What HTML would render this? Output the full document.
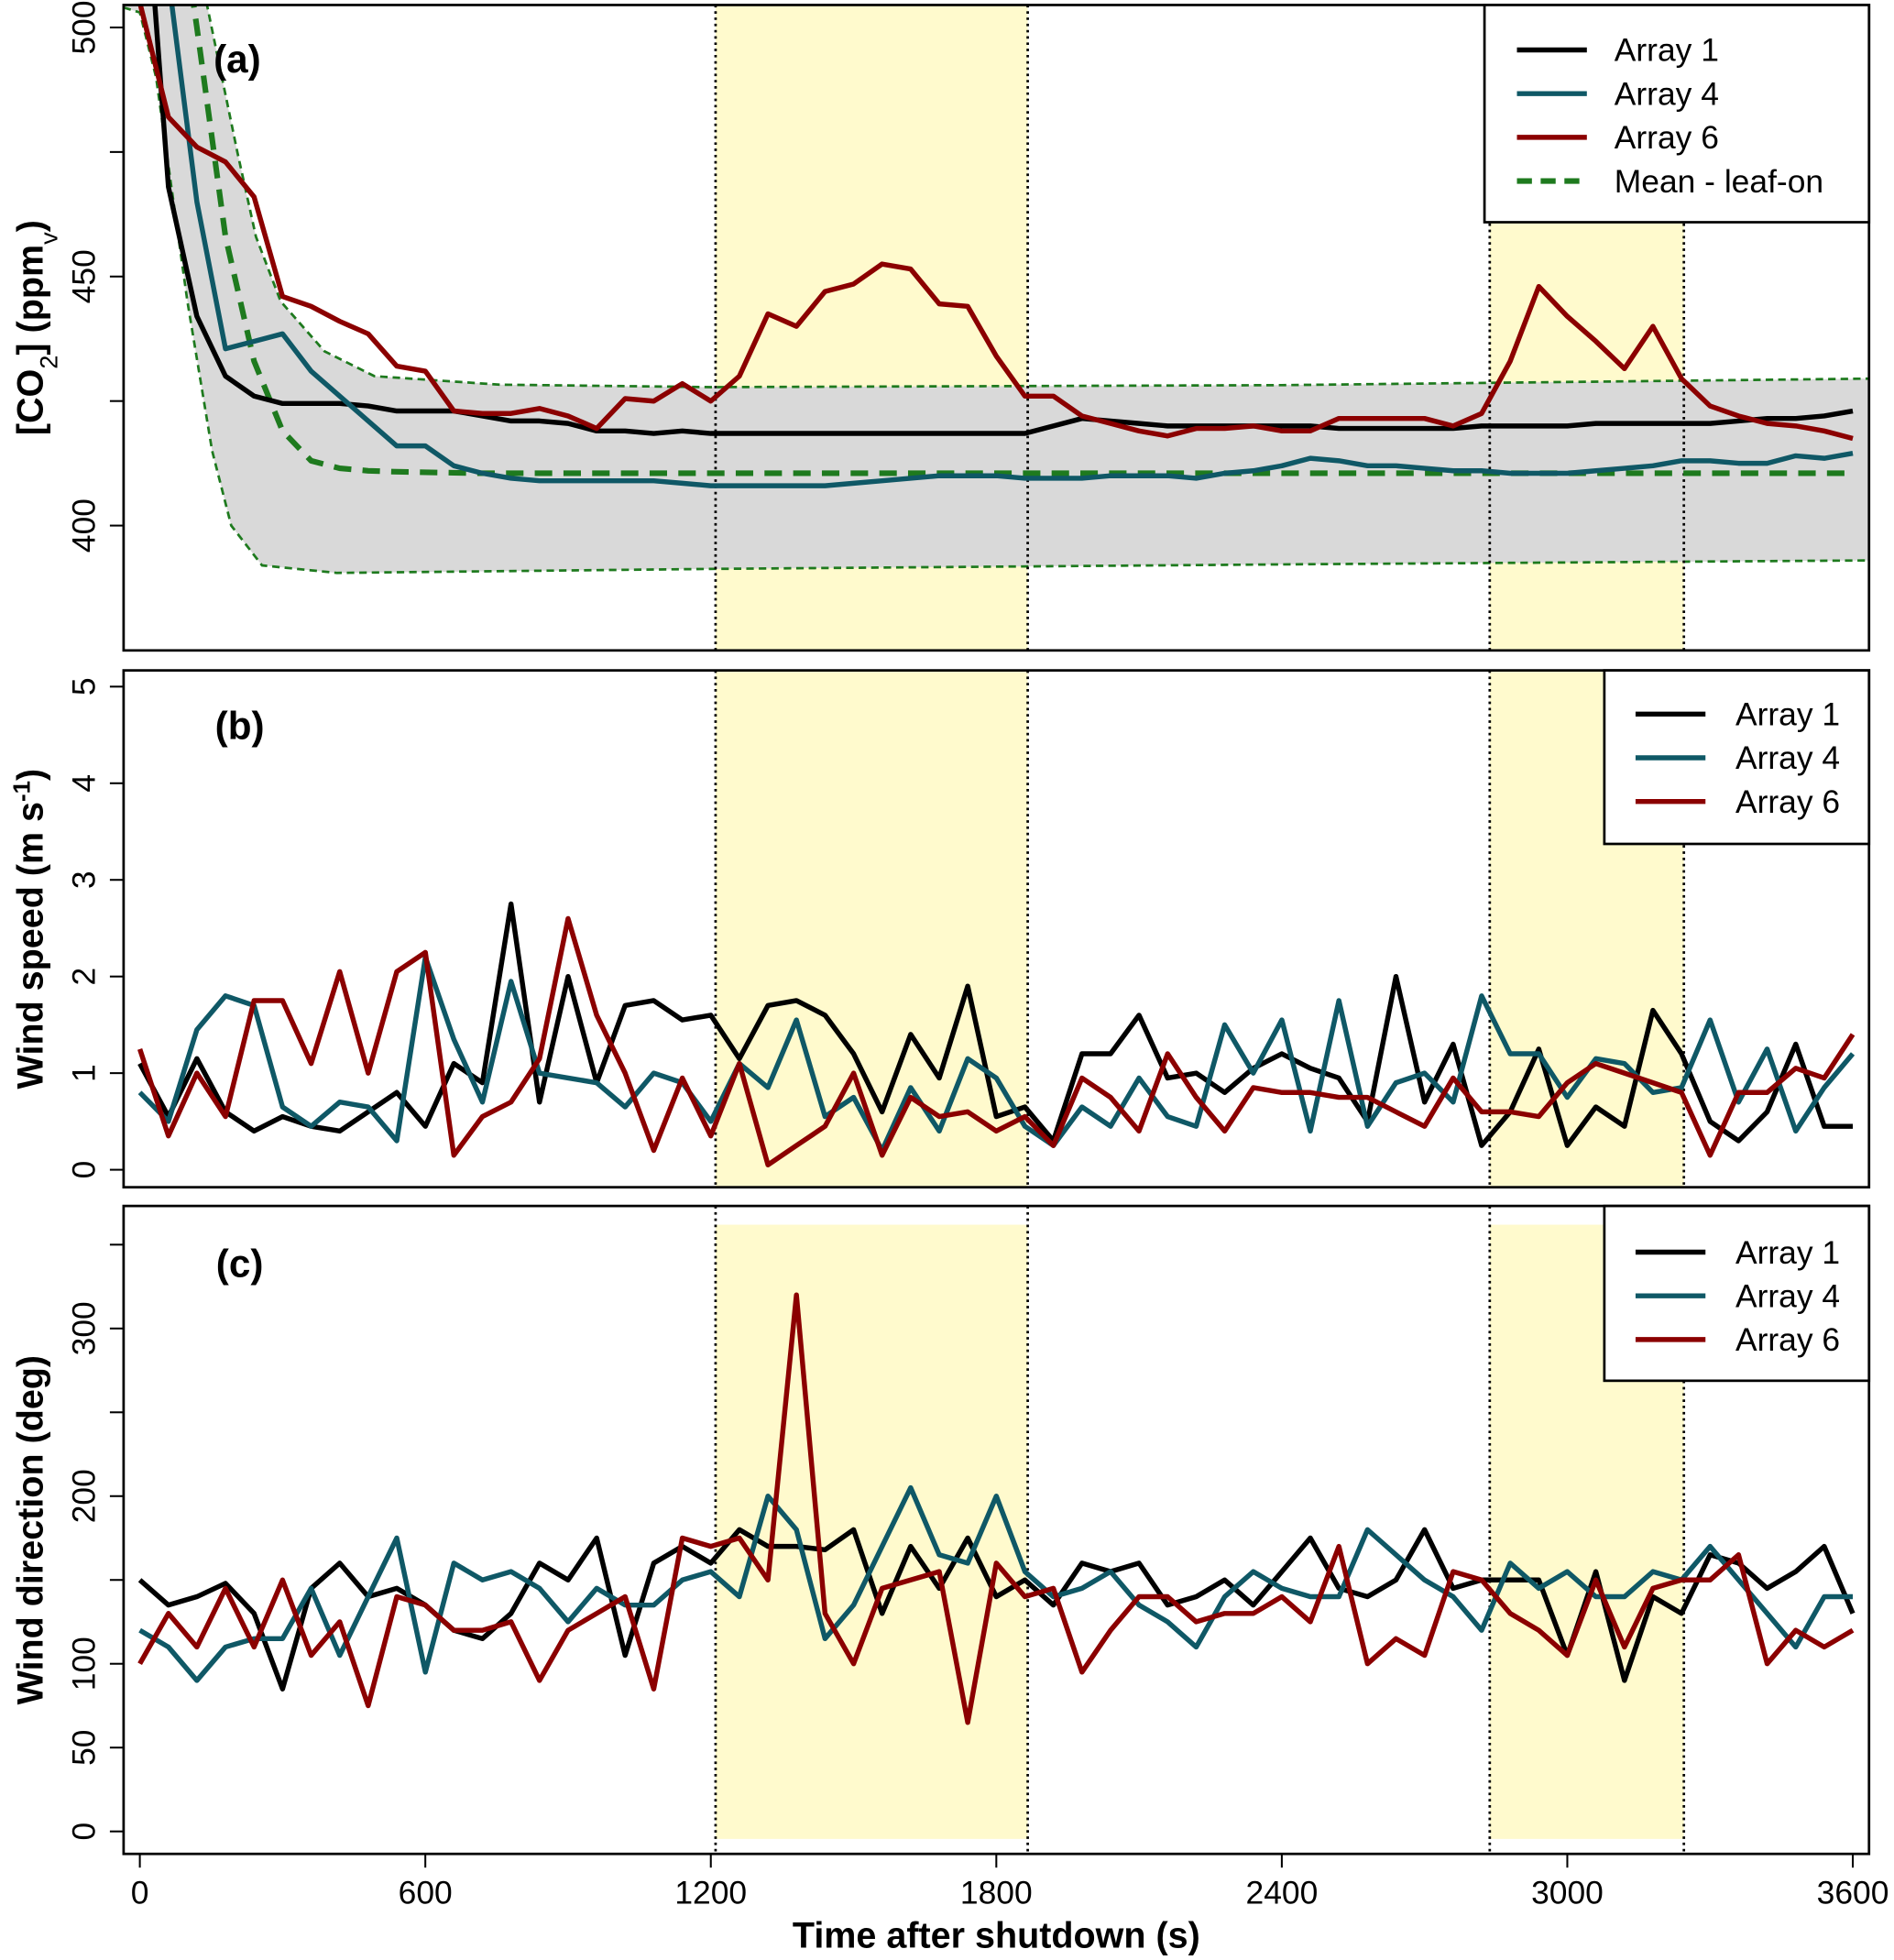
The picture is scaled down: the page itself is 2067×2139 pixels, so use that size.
<!DOCTYPE html>
<html><head><meta charset="utf-8"><style>
html,body{margin:0;padding:0;background:#fff}
svg{display:block}
text{font-family:"Liberation Sans",Arial,sans-serif}
</style></head><body>
<svg id="chart" width="2067" height="2139" viewBox="0 0 1517 1570" preserveAspectRatio="none" xmlns="http://www.w3.org/2000/svg"></svg>
<script>
// ---------- data ----------
const co2Array1 = [545,468,442,430,426,424.5,424.5,424.5,424,423,423,423,422,421,421,420.5,419,419,418.5,419,418.5,418.5,418.5,418.5,418.5,418.5,418.5,418.5,418.5,418.5,418.5,418.5,420,421.5,421,420.5,420,420,420,420,420,420,419.5,419.5,419.5,419.5,419.5,420,420,420,420,420.5,420.5,420.5,420.5,420.5,421,421.5,421.5,422,423];
const co2Array4 = [530,510,465,435.5,437,438.5,431,426,421,416,416,412,410.5,409.5,409,409,409,409,409,408.5,408,408,408,408,408,408.5,409,409.5,410,410,410,409.5,409.5,409.5,410,410,410,409.5,410.5,411,412,413.5,413,412,412,411.5,411,411,410.5,410.5,410.5,411,411.5,412,413,413,412.5,412.5,414,413.5,414.5];
const co2Array6 = [505,482,476,473,466,446,444,441,438.5,432,431,423,422.5,422.5,423.5,422,419.5,425.5,425,428.5,425,430,442.5,440,447,448.5,452.5,451.5,444.5,444,434,426,426,422,420.5,419,418,419.5,419.5,420,419,419,421.5,421.5,421.5,421.5,420,422.5,433,448,442,437,431.5,440,429.5,424,422,420.5,420,419,417.5];
const co2MeanLeafOn = [570,540,500,458,433,419,413,411.5,411,410.8,410.7,410.6,410.5,410.5,410.5,410.5,410.5,410.5,410.5,410.5,410.5,410.5,410.5,410.5,410.5,410.5,410.5,410.5,410.5,410.5,410.5,410.5,410.5,410.5,410.5,410.5,410.5,410.5,410.5,410.5,410.5,410.5,410.5,410.5,410.5,410.5,410.5,410.5,410.5,410.5,410.5,410.5,410.5,410.5,410.5,410.5,410.5,410.5,410.5,410.5,410.5];
const bandTime = [-34,0,140,205,244,296,388,493,755,1200,2400,3634];
const bandUpper = [560,540,505,475,458,445,435,430,428.3,427.8,428.2,429.5];
const bandLowerTime = [-34,0,34,100,152,192,257,414,1200,2400,3634];
const bandLower = [504,503,490,445,415,400,392,390.5,391.3,392.2,393];

const wsArray1 = [1.1,0.55,1.15,0.6,0.4,0.55,0.45,0.4,0.6,0.8,0.45,1.1,0.9,2.75,0.7,2.0,0.9,1.7,1.75,1.55,1.6,1.15,1.7,1.75,1.6,1.2,0.6,1.4,0.95,1.9,0.55,0.65,0.3,1.2,1.2,1.6,0.95,1.0,0.8,1.05,1.2,1.05,0.95,0.5,2.0,0.7,1.3,0.25,0.6,1.25,0.25,0.65,0.45,1.65,1.2,0.5,0.3,0.6,1.3,0.45,0.45];
const wsArray4 = [0.8,0.5,1.45,1.8,1.7,0.65,0.45,0.7,0.65,0.3,2.2,1.35,0.7,1.95,1.0,0.95,0.9,0.65,1.0,0.9,0.5,1.1,0.85,1.55,0.55,0.75,0.2,0.85,0.4,1.15,0.95,0.45,0.25,0.65,0.45,0.95,0.55,0.45,1.5,1.0,1.55,0.4,1.75,0.45,0.9,1.0,0.7,1.8,1.2,1.2,0.75,1.15,1.1,0.8,0.85,1.55,0.7,1.25,0.4,0.85,1.2];
const wsArray6 = [1.25,0.35,1.0,0.55,1.75,1.75,1.1,2.05,1.0,2.05,2.25,0.15,0.55,0.7,1.15,2.6,1.6,1.0,0.2,0.95,0.35,1.1,0.05,0.25,0.45,1.0,0.15,0.75,0.55,0.6,0.4,0.55,0.25,0.95,0.75,0.4,1.2,0.75,0.4,0.85,0.8,0.8,0.75,0.75,0.6,0.45,0.95,0.6,0.6,0.55,0.9,1.1,1.0,0.9,0.8,0.15,0.8,0.8,1.05,0.95,1.4];

const wdArray1 = [150,135,140,148,130,85,145,160,140,145,135,120,115,130,160,150,175,105,160,170,160,180,170,170,168,180,130,170,145,175,140,150,135,160,155,160,135,140,150,135,155,175,145,140,150,180,145,150,150,150,105,155,90,140,130,165,160,145,155,170,130];
const wdArray4 = [120,110,90,110,115,115,145,105,140,175,95,160,150,155,145,125,145,135,135,150,155,140,200,180,115,135,170,205,165,160,200,155,140,145,155,135,125,110,140,155,145,140,140,180,165,150,140,120,160,145,155,140,140,155,150,170,150,130,110,140,140];
const wdArray6 = [100,130,110,145,110,150,105,125,75,140,135,120,120,125,90,120,130,140,85,175,170,175,150,320,130,100,145,150,155,65,160,140,145,95,120,140,140,125,130,130,140,125,170,100,115,105,155,150,130,120,105,150,110,145,150,150,165,100,120,110,120];

const xTicks = [0,600,1200,1800,2400,3000,3600];
const co2Ticks = [400,425,450,475,500];
const co2TickLabels = ["400","","450","","500"];
const wsTicks = [0,1,2,3,4,5];
const wdTicks = [0,50,100,150,200,250,300,350];
const wdTickLabels = ["0","50","100","","200","","300",""];
const highlightStart = [1210,2837];
const highlightEnd = [1866,3245];
const legendLabelsA = ["Array 1","Array 4","Array 6","Mean - leaf-on"];
const legendLabelsBC = ["Array 1","Array 4","Array 6"];
const STEP = 60;

// ---------- helpers ----------
const NS = "http://www.w3.org/2000/svg";
const svg = document.getElementById("chart");
function mk(tag, attrs, parent){
  const e = document.createElementNS(NS, tag);
  for (const k in attrs) e.setAttribute(k, attrs[k]);
  (parent||svg).appendChild(e);
  return e;
}
const X0 = 99, X1 = 1497;
function xs(t){ return 112 + (t-0)*(1484-112)/3600; }
const panels = {
  a:{top:4,bottom:521,y:v=>22+(500-v)*(421-22)/100},
  b:{top:537,bottom:951,y:v=>937-v*77.4},
  c:{top:966,bottom:1485,y:v=>1467-v*(1467-997)/350}
};
const colors = {a1:"#000000",a4:"#0f5866",a6:"#8b0000",g:"#1e7a1e"};

for (const k in panels){
  const p = panels[k];
  const cp = mk("clipPath",{id:"clip-"+k});
  mk("rect",{x:X0,y:p.top,width:X1-X0,height:p.bottom-p.top},cp);
}

function highlights(k, top, bottom){
  for (let i=0;i<highlightStart.length;i++){
    const r = mk("rect",{x:xs(highlightStart[i]),y:top,width:xs(highlightEnd[i])-xs(highlightStart[i]),height:bottom-top,fill:"#fffacd"});
    
    
  }
}
function vlines(k){
  const p = panels[k];
  for (let i=0;i<highlightStart.length;i++){
    for (const t of [highlightStart[i],highlightEnd[i]]){
      const l = mk("line",{x1:xs(t),x2:xs(t),y1:p.top,y2:p.bottom,stroke:"#000","stroke-width":2,"stroke-dasharray":"2,3"});
      
      
    }
  }
}
function series(k, vals, color, name, width, dash){
  const p = panels[k];
  const pts = vals.map((v,i)=>xs(i*STEP).toFixed(1)+","+p.y(v).toFixed(1)).join(" ");
  const pl = mk("polyline",{points:pts,fill:"none",stroke:color,"stroke-width":width||4,"stroke-linejoin":"round","clip-path":"url(#clip-"+k+")"});
  if (dash) pl.setAttribute("stroke-dasharray",dash);
  
  
}
function yAxis(k, ticks, labels, title){
  const p = panels[k];
  ticks.forEach((v,i)=>{
    const y = p.y(v);
    mk("line",{x1:X0-11,x2:X0,y1:y,y2:y,stroke:"#000","stroke-width":1.5});
    const lab = labels ? labels[i] : String(v);
    if (lab){
      const t = mk("text",{x:0,y:0,transform:`translate(${X0-23},${y}) rotate(-90)`,"text-anchor":"middle","font-size":26});
      t.textContent = lab;
      
      
    }
  });
  const yc = (p.top+p.bottom)/2;
  const tt = mk("text",{x:0,y:0,transform:`translate(34,${yc}) rotate(-90)`,"text-anchor":"middle","font-size":29,"font-weight":"bold"});
  tt.innerHTML = title;
  
  
}
function frame(k){
  const p = panels[k];
  const r = mk("rect",{x:X0,y:p.top,width:X1-X0,height:p.bottom-p.top,fill:"none",stroke:"#000","stroke-width":2});
  
  
}
function panelLabel(k, txt, x, y){
  const t = mk("text",{x:x,y:y,"text-anchor":"middle","font-size":31,"font-weight":"bold"});
  t.textContent = txt;
  
  
}
function legend(k, x, y, w, h, labels, cols, lineX, textX, firstY){
  const g = mk("g",{});
  
  
  mk("rect",{x:x,y:y,width:w,height:h,fill:"#fff",stroke:"#000","stroke-width":2},g);
  labels.forEach((lab,i)=>{
    const yy = firstY + i*35;
    const ln = mk("line",{x1:lineX,x2:lineX+56,y1:yy,y2:yy,stroke:cols[i],"stroke-width":i===3?4.5:4},g);
    if (i===3) ln.setAttribute("stroke-dasharray","12,7");
    const t = mk("text",{x:textX,y:yy+9,"font-size":26},g);
    t.textContent = lab;
    
    
  });
}

// ---------- panel a ----------
highlights("a", panels.a.top, panels.a.bottom);
{
  const p = panels.a;
  let d = "M"+bandTime.map((t,i)=>xs(t).toFixed(1)+","+p.y(bandUpper[i]).toFixed(1)).join(" L");
  for (let i=bandLowerTime.length-1;i>=0;i--) d += " L"+xs(bandLowerTime[i]).toFixed(1)+","+p.y(bandLower[i]).toFixed(1);
  d += " Z";
  const band = mk("path",{d:d,fill:"#d9d9d9","clip-path":"url(#clip-a)"});
  
  
  const up = mk("polyline",{points:bandTime.map((t,i)=>xs(t).toFixed(1)+","+p.y(bandUpper[i]).toFixed(1)).join(" "),fill:"none",stroke:colors.g,"stroke-width":2,"stroke-dasharray":"6,4","clip-path":"url(#clip-a)"});
  
  
  const lo = mk("polyline",{points:bandLowerTime.map((t,i)=>xs(t).toFixed(1)+","+p.y(bandLower[i]).toFixed(1)).join(" "),fill:"none",stroke:colors.g,"stroke-width":2,"stroke-dasharray":"6,4","clip-path":"url(#clip-a)"});
  
  
}
vlines("a");
series("a", co2MeanLeafOn, colors.g, "mean-leaf-on-line", 4.5, "14,9");
series("a", co2Array1, colors.a1, "co2-array-1-line");
series("a", co2Array4, colors.a4, "co2-array-4-line");
series("a", co2Array6, colors.a6, "co2-array-6-line");
frame("a");
yAxis("a", co2Ticks, co2TickLabels, '[CO<tspan baseline-shift="sub" font-size="20" font-weight="normal">2</tspan>] (ppm<tspan baseline-shift="sub" font-size="20" font-weight="normal">v</tspan>)');
panelLabel("a","(a)",190,58);
legend("a",1189,4,308,174,legendLabelsA,[colors.a1,colors.a4,colors.a6,colors.g],1215,1293,40);

// ---------- panel b ----------
highlights("b", panels.b.top, panels.b.bottom);
vlines("b");
series("b", wsArray1, colors.a1, "wind-speed-array-1-line");
series("b", wsArray4, colors.a4, "wind-speed-array-4-line");
series("b", wsArray6, colors.a6, "wind-speed-array-6-line");
frame("b");
yAxis("b", wsTicks, null, 'Wind speed (m s<tspan baseline-shift="super" font-size="19">-1</tspan>)');
panelLabel("b","(b)",192,592);
legend("b",1285,537,212,139,legendLabelsBC,[colors.a1,colors.a4,colors.a6],1310,1390,572);

// ---------- panel c ----------
highlights("c", 981, 1473);
vlines("c");
series("c", wdArray1, colors.a1, "wind-direction-array-1-line");
series("c", wdArray4, colors.a4, "wind-direction-array-4-line");
series("c", wdArray6, colors.a6, "wind-direction-array-6-line");
frame("c");
yAxis("c", wdTicks, wdTickLabels, 'Wind direction (deg)');
panelLabel("c","(c)",192,1023);
legend("c",1285,966,212,140,legendLabelsBC,[colors.a1,colors.a4,colors.a6],1310,1390,1003);

// ---------- x axis ----------
xTicks.forEach(t=>{
  const x = xs(t);
  mk("line",{x1:x,x2:x,y1:1485,y2:1496,stroke:"#000","stroke-width":1.5});
  const lab = mk("text",{x:x,y:1525,"text-anchor":"middle","font-size":26});
  lab.textContent = String(t);
  
  
});
const xt = mk("text",{x:798,y:1560,"text-anchor":"middle","font-size":29,"font-weight":"bold"});
xt.textContent = "Time after shutdown (s)";


</script>
</body></html>
